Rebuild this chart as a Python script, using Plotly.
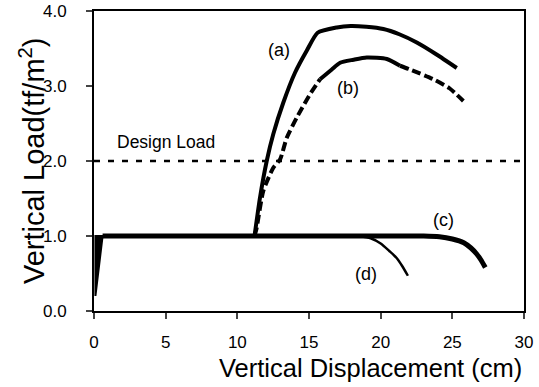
import plotly.graph_objects as go

# Curve (a)
a_x = [11.2, 11.58, 12.05, 12.51, 13.21, 14.03, 14.84, 15.6, 16.94, 17.9, 19.0, 20.19, 21.3, 22.52, 23.9, 25.31]
a_y = [1.0, 1.51, 2.0, 2.36, 2.78, 3.18, 3.47, 3.71, 3.78, 3.80, 3.79, 3.76, 3.69, 3.58, 3.42, 3.24]

# Curve (b) segments
b1_x = [11.2, 11.35, 11.81, 12.51, 12.98, 13.45, 14.15, 15.07, 15.77]
b1_y = [1.0, 1.11, 1.6, 1.91, 2.02, 2.31, 2.58, 2.89, 3.09]
b2_x = [15.77, 16.59, 17.17, 18.1, 19.03, 20.43, 21.35]
b2_y = [3.09, 3.22, 3.31, 3.35, 3.38, 3.36, 3.27]
b3_x = [21.35, 22.05, 23.68, 24.8, 25.77]
b3_y = [3.27, 3.22, 3.09, 2.97, 2.80]

# Curve (c)
c_x = [0.6, 5, 10, 15, 20, 23.0, 24.1, 25.0, 25.8, 26.3, 26.7, 27.0, 27.3]
c_y = [1.0, 1.0, 1.0, 1.0, 1.0, 1.0, 0.99, 0.96, 0.91, 0.84, 0.76, 0.68, 0.58]

# Initial loading spike
s_x = [0.1, 0.1, 0.3, 0.6, 0.1]
s_y = [0.2, 1.0, 1.0, 1.0, 0.2]

# Curve (d)
d_x = [18.5, 19.3, 20.0, 20.6, 21.1, 21.5, 21.9]
d_y = [1.0, 0.97, 0.9, 0.8, 0.71, 0.6, 0.47]

design_x = [0, 30]
design_y = [2.0, 2.0]

x_ticks = [0, 5, 10, 15, 20, 25, 30]
y_ticks = [0.0, 1.0, 2.0, 3.0, 4.0]

labels = ["(a)", "(b)", "(c)", "(d)"]
label_x = [12.94, 17.69, 24.39, 19.0]
label_y = [3.48, 2.97, 1.22, 0.49]

FONT = "Liberation Sans, Arial"
fig = go.Figure()
blk = "black"
fig.add_trace(go.Scatter(x=design_x, y=design_y, mode="lines",
                         line=dict(color=blk, width=2.5, dash="6px,8px")))
fig.add_trace(go.Scatter(x=s_x, y=s_y, mode="lines", fill="toself",
                         fillcolor=blk, line=dict(color=blk, width=2)))
fig.add_trace(go.Scatter(x=c_x, y=c_y, mode="lines", line=dict(color=blk, width=5, shape="spline", smoothing=0.6)))
fig.add_trace(go.Scatter(x=d_x, y=d_y, mode="lines", line=dict(color=blk, width=2.5, shape="spline", smoothing=0.6)))
fig.add_trace(go.Scatter(x=a_x, y=a_y, mode="lines", line=dict(color=blk, width=4, shape="spline", smoothing=0.6)))
fig.add_trace(go.Scatter(x=b1_x, y=b1_y, mode="lines", line=dict(color=blk, width=4, dash="9px,4px", shape="spline", smoothing=0.6)))
fig.add_trace(go.Scatter(x=b2_x, y=b2_y, mode="lines", line=dict(color=blk, width=4, shape="spline", smoothing=0.6)))
fig.add_trace(go.Scatter(x=b3_x, y=b3_y, mode="lines", line=dict(color=blk, width=4, dash="9px,4px", shape="spline", smoothing=0.6)))

for t, x, y in zip(labels, label_x, label_y):
    fig.add_annotation(x=x, y=y, text=t, showarrow=False,
                       font=dict(size=18, color=blk, family=FONT))
fig.add_annotation(x=1.47, y=2.25, text="Design Load", showarrow=False, xanchor="left",
                   font=dict(size=17.5, color=blk, family=FONT))
fig.add_annotation(xref="paper", yref="paper", x=1.0, y=-0.19, xanchor="right", yanchor="middle",
                   text="Vertical Displacement (cm)", showarrow=False,
                   font=dict(size=25.5, color=blk, family=FONT))
fig.add_annotation(xref="paper", yref="paper", x=-0.144, y=0.5, xanchor="center", yanchor="middle",
                   text="Vertical Load(tf/m<sup>2</sup>)", showarrow=False, textangle=-90,
                   font=dict(size=29, color=blk, family=FONT))

fig.update_layout(
    width=539, height=387,
    margin=dict(l=94, r=15, t=11, b=76),
    plot_bgcolor="white", paper_bgcolor="white",
    showlegend=False,
    font=dict(family=FONT, color=blk),
)
fig.update_xaxes(range=[0, 30], tickvals=x_ticks, ticks="outside", ticklen=6, tickwidth=2,
                 showline=True, linewidth=2, linecolor=blk, mirror=True, showgrid=False,
                 zeroline=False, tickfont=dict(size=17), automargin=False, ticklabelstandoff=9)
fig.update_yaxes(range=[0, 4], tickvals=y_ticks, tickformat=".1f", ticks="outside", ticklen=6,
                 tickwidth=2, showline=True, linewidth=2, linecolor=blk, mirror=True,
                 showgrid=False, zeroline=False, tickfont=dict(size=17), automargin=False,
                 ticklabelstandoff=16)

fig.write_html("out.html", config={"displayModeBar": False},
               post_script="document.body.style.margin='0';")
